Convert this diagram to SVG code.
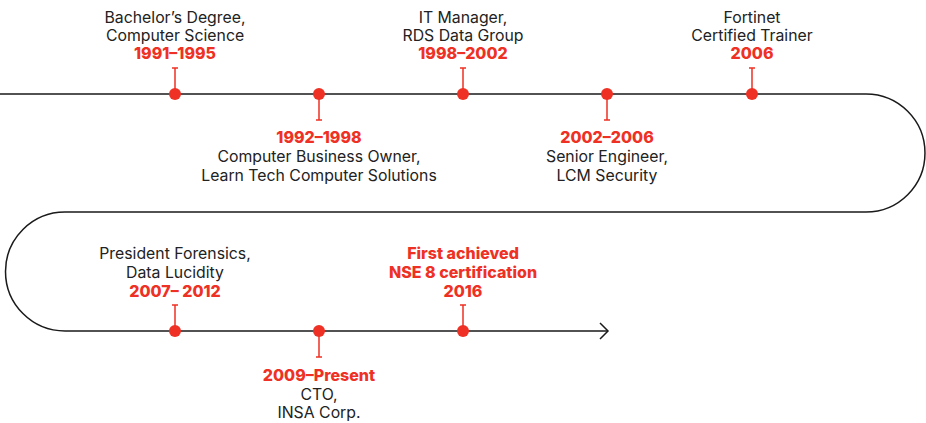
<svg xmlns="http://www.w3.org/2000/svg" width="926" height="423" viewBox="0 0 926 423">
<style>
.t{font-family:Inter,"Liberation Sans",sans-serif;font-size:15.8px;fill:#222;text-anchor:middle}
.r{fill:#EE3124;font-weight:800;font-size:16px}
.track{fill:none;stroke:#1a1a1a;stroke-width:1.5}
.stem{stroke:#EE3124;stroke-width:1.5;fill:none}
.dot{fill:#EE3124}
</style>
<g id="connectors">
<path class="track" d="M0 94 H866 A59 59 0 0 1 866 212 H65 A59.5 59.5 0 0 0 65 331 H608"/>
<path class="track" d="M600 323 L608 331 L600 339"/>
</g>
<g id="n1"><path class="stem" d="M175 94 V68 M172 68 H178"/><circle class="dot" cx="175" cy="94" r="6"/>
<text class="t" x="175" y="23">Bachelor’s Degree,</text><text class="t" x="175" y="41">Computer Science</text><text class="t r" x="175" y="59">1991–1995</text></g>
<g id="n2"><path class="stem" d="M319 94 V120 M316 120 H322"/><circle class="dot" cx="319" cy="94" r="6"/>
<text class="t r" x="319" y="143">1992–1998</text><text class="t" x="319" y="162">Computer Business Owner,</text><text class="t" x="319" y="181">Learn Tech Computer Solutions</text></g>
<g id="n3"><path class="stem" d="M463 94 V68 M460 68 H466"/><circle class="dot" cx="463" cy="94" r="6"/>
<text class="t" x="463" y="23">IT Manager,</text><text class="t" x="463" y="41">RDS Data Group</text><text class="t r" x="463" y="59">1998–2002</text></g>
<g id="n4"><path class="stem" d="M607 94 V120 M604 120 H610"/><circle class="dot" cx="607" cy="94" r="6"/>
<text class="t r" x="607" y="143">2002–2006</text><text class="t" x="607" y="162">Senior Engineer,</text><text class="t" x="607" y="181">LCM Security</text></g>
<g id="n5"><path class="stem" d="M752 94 V68 M749 68 H755"/><circle class="dot" cx="752" cy="94" r="6"/>
<text class="t" x="752" y="23">Fortinet</text><text class="t" x="752" y="41">Certified Trainer</text><text class="t r" x="752" y="59">2006</text></g>
<g id="n6"><path class="stem" d="M175 331 V305 M172 305 H178"/><circle class="dot" cx="175" cy="331" r="6"/>
<text class="t" x="175" y="259">President Forensics,</text><text class="t" x="175" y="278">Data Lucidity</text><text class="t r" x="175" y="297">2007– 2012</text></g>
<g id="n7"><path class="stem" d="M319 331 V357 M316 357 H322"/><circle class="dot" cx="319" cy="331" r="6"/>
<text class="t r" x="319" y="381">2009–Present</text><text class="t" x="319" y="400">CTO,</text><text class="t" x="319" y="418">INSA Corp.</text></g>
<g id="n8"><path class="stem" d="M463 331 V305 M460 305 H466"/><circle class="dot" cx="463" cy="331" r="6"/>
<text class="t r" x="463" y="259">First achieved</text><text class="t r" x="463" y="278">NSE 8 certification</text><text class="t r" x="463" y="297">2016</text></g>
</svg>
